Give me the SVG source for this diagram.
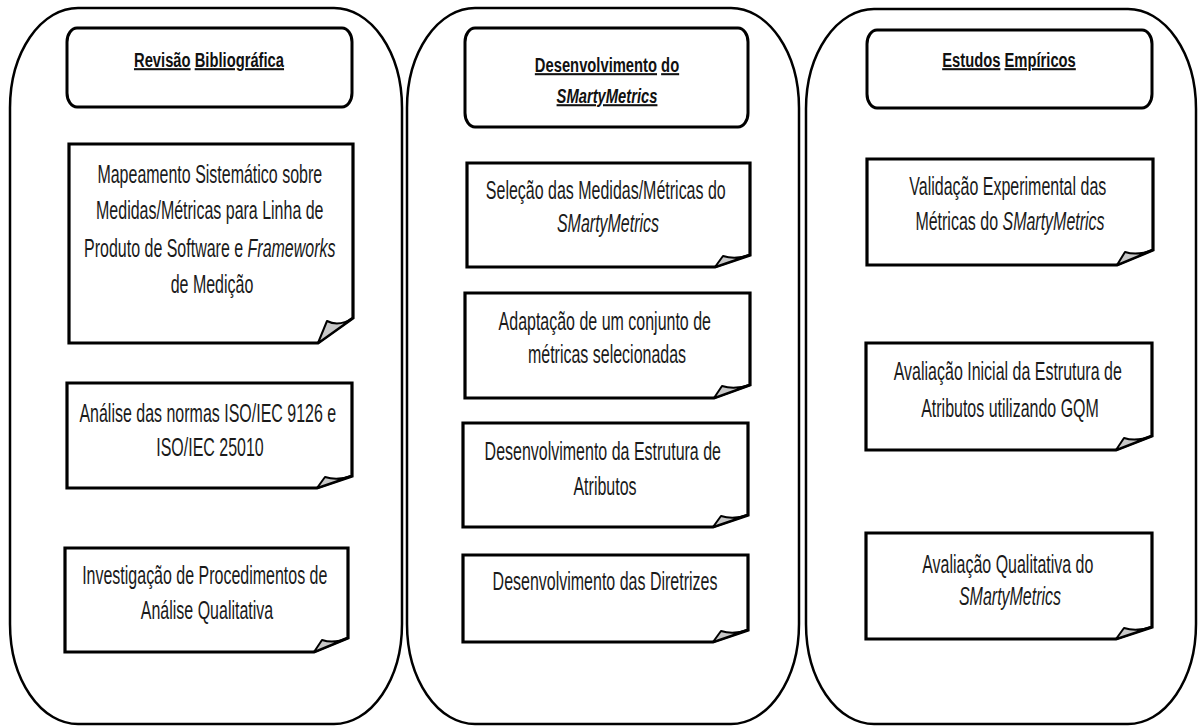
<svg xmlns="http://www.w3.org/2000/svg" width="1199" height="727" viewBox="0 0 1199 727">
  <style>
    .lane { fill: #fff; stroke: #000; stroke-width: 2.5; }
    .head { fill: #fff; stroke: #000; stroke-width: 3; }
    .note { fill: #fff; stroke: #000; stroke-width: 3.2; stroke-linejoin: miter; }
    .curl { fill: #c8c8c8; stroke: #000; stroke-width: 2; stroke-linejoin: round; }
    .ht { font-family: "Liberation Sans", Arial, sans-serif; font-size: 18px; font-weight: bold; fill: #111; text-anchor: middle; }
    .ht .u { text-decoration: underline; }
    .bt { font-family: "Liberation Sans", Arial, sans-serif; font-size: 19.5px; fill: #1a1a1a; text-anchor: middle; }
    .i { font-style: italic; }
  </style>
  <rect width="1199" height="727" fill="#fff"/>

  <!-- swimlane containers -->
  <g id="lanes">
    <rect class="lane" x="10" y="8" width="392" height="716" rx="68" ry="100"/>
    <rect class="lane" x="407" y="8" width="392" height="716" rx="68" ry="100"/>
    <rect class="lane" x="806" y="9" width="390" height="715" rx="68" ry="100"/>
  </g>

  <!-- lane headers (condensed, tall lettering) -->
  <g id="head-revisao">
    <rect class="head" x="67" y="28" width="285" height="79" rx="10" ry="14"/>
    <text class="ht" transform="translate(209,67) scale(0.82,1.15)"><tspan class="u">Revisão</tspan> <tspan class="u">Bibliográfica</tspan></text>
  </g>
  <g id="head-desenvolvimento">
    <rect class="head" x="465" y="28" width="283" height="99" rx="10" ry="14"/>
    <text class="ht" transform="translate(607,72) scale(0.82,1.15)"><tspan class="u">Desenvolvimento</tspan> <tspan class="u">do</tspan><tspan x="0" dy="27" class="u i">SMartyMetrics</tspan></text>
  </g>
  <g id="head-estudos">
    <rect class="head" x="867" y="30" width="285" height="78" rx="10" ry="14"/>
    <text class="ht" transform="translate(1009,67) scale(0.82,1.15)"><tspan class="u">Estudos</tspan> <tspan class="u">Empíricos</tspan></text>
  </g>

  <!-- column 1 -->
  <g id="n-mapeamento">
    <path class="note" d="M69,144 H353 V318 L318,343 H69 Z"/>
    <path class="curl" d="M318,343 L327,321 Q339,327 353,318 Z"/>
    <text class="bt" transform="translate(212,183) scale(0.82,1.28)">
      <tspan x="0" y="0">Mapeamento Sistemático sobre</tspan>
      <tspan x="0" y="28.5">Medidas/Métricas para Linha de</tspan>
      <tspan x="0" y="57.5">Produto de Software e <tspan class="i">Frameworks</tspan></tspan>
      <tspan x="0" y="86">de Medição</tspan>
    </text>
  </g>
  <g id="n-normas">
    <path class="note" d="M67,383 H352 V476 L317,488 H67 Z"/>
    <path class="curl" d="M317,488 L325,477 Q337,481 352,476 Z"/>
    <text class="bt" transform="translate(210,422) scale(0.82,1.28)">
      <tspan x="0" y="0">Análise das normas ISO/IEC 9126 e</tspan>
      <tspan x="0" y="26.5">ISO/IEC 25010</tspan>
    </text>
  </g>
  <g id="n-investigacao">
    <path class="note" d="M65,548 H348 V638 L314,652 H65 Z"/>
    <path class="curl" d="M314,652 L322,640 Q334,644 348,638 Z"/>
    <text class="bt" transform="translate(207,584) scale(0.82,1.28)">
      <tspan x="0" y="0">Investigação de Procedimentos de</tspan>
      <tspan x="0" y="27.3">Análise Qualitativa</tspan>
    </text>
  </g>

  <!-- column 2 -->
  <g id="n-selecao">
    <path class="note" d="M467,163 H750 V255 L715,267 H467 Z"/>
    <path class="curl" d="M715,267 L723,256 Q735,260 750,255 Z"/>
    <text class="bt" transform="translate(608,199) scale(0.82,1.28)">
      <tspan x="0" y="0">Seleção das Medidas/Métricas do</tspan>
      <tspan x="0" y="25.8" class="i">SMartyMetrics</tspan>
    </text>
  </g>
  <g id="n-adaptacao">
    <path class="note" d="M465,293 H750 V385 L714,398 H465 Z"/>
    <path class="curl" d="M714,398 L722,386 Q734,390 750,385 Z"/>
    <text class="bt" transform="translate(607,330) scale(0.82,1.28)">
      <tspan x="0" y="0">Adaptação de um conjunto de</tspan>
      <tspan x="0" y="25.8">métricas selecionadas</tspan>
    </text>
  </g>
  <g id="n-estrutura">
    <path class="note" d="M463,423 H748 V515 L713,527 H463 Z"/>
    <path class="curl" d="M713,527 L721,516 Q733,520 748,515 Z"/>
    <text class="bt" transform="translate(605,460) scale(0.82,1.28)">
      <tspan x="0" y="0">Desenvolvimento da Estrutura de</tspan>
      <tspan x="0" y="27.3">Atributos</tspan>
    </text>
  </g>
  <g id="n-diretrizes">
    <path class="note" d="M463,555 H748 V630 L713,642 H463 Z"/>
    <path class="curl" d="M713,642 L721,631 Q733,635 748,630 Z"/>
    <text class="bt" transform="translate(605,590) scale(0.82,1.28)">Desenvolvimento das Diretrizes</text>
  </g>

  <!-- column 3 -->
  <g id="n-validacao">
    <path class="note" d="M867,159 H1153 V250 L1117,265 H867 Z"/>
    <path class="curl" d="M1117,265 L1125,252 Q1137,256 1153,250 Z"/>
    <text class="bt" transform="translate(1010,195) scale(0.82,1.28)">
      <tspan x="0" y="0">Validação Experimental das</tspan>
      <tspan x="0" y="27.3">Métricas do <tspan class="i">SMartyMetrics</tspan></tspan>
    </text>
  </g>
  <g id="n-avaliacao-inicial">
    <path class="note" d="M866,343 H1152 V436 L1116,450 H866 Z"/>
    <path class="curl" d="M1116,450 L1124,438 Q1136,442 1152,436 Z"/>
    <text class="bt" transform="translate(1010,380) scale(0.82,1.28)">
      <tspan x="0" y="0">Avaliação Inicial da Estrutura de</tspan>
      <tspan x="0" y="29">Atributos utilizando GQM</tspan>
    </text>
  </g>
  <g id="n-avaliacao-qualitativa">
    <path class="note" d="M866,533 H1152 V627 L1116,639 H866 Z"/>
    <path class="curl" d="M1116,639 L1124,628 Q1136,632 1152,627 Z"/>
    <text class="bt" transform="translate(1010,573) scale(0.82,1.28)">
      <tspan x="0" y="0">Avaliação Qualitativa do</tspan>
      <tspan x="0" y="25" class="i">SMartyMetrics</tspan>
    </text>
  </g>

  <!-- no connectors are drawn between the lanes -->
  <g id="connectors"/>
</svg>
